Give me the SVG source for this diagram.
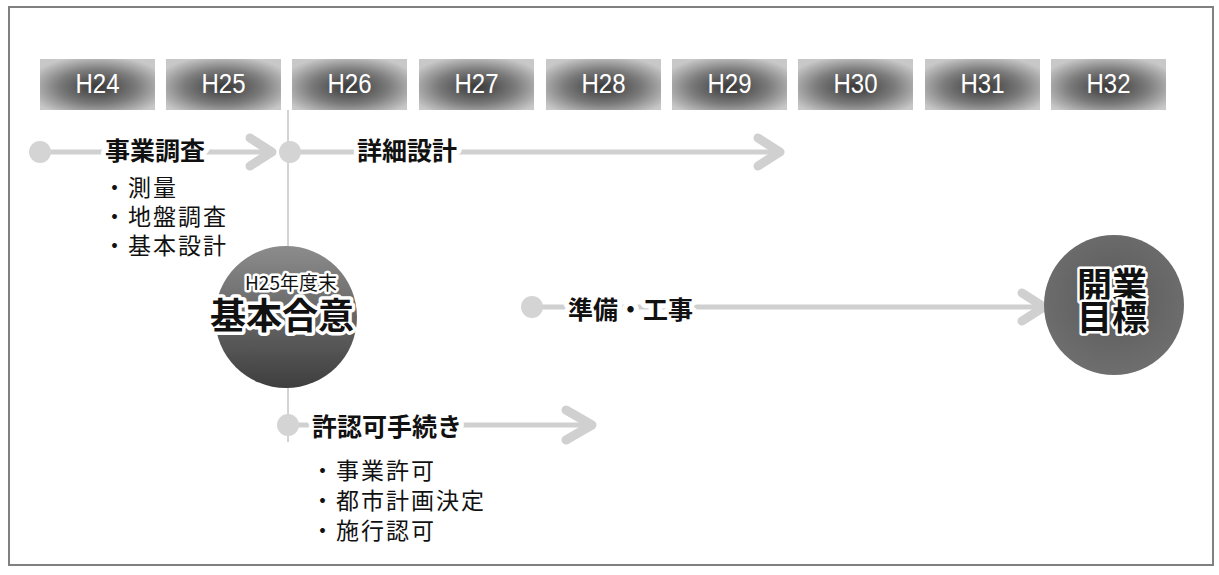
<svg xmlns="http://www.w3.org/2000/svg" width="1219" height="575" viewBox="0 0 1219 575">
<defs>
  <radialGradient id="yearGrad" cx="0.5" cy="0.55" r="0.62">
    <stop offset="0" stop-color="#383838"/>
    <stop offset="0.55" stop-color="#7c7c7c"/>
    <stop offset="1" stop-color="#c8c8c8"/>
  </radialGradient>
  <linearGradient id="ballGrad" x1="0" y1="0" x2="0" y2="1">
    <stop offset="0" stop-color="#8c8c8c"/>
    <stop offset="0.5" stop-color="#666"/>
    <stop offset="1" stop-color="#3e3e3e"/>
  </linearGradient>
  <radialGradient id="ball2Grad" cx="0.5" cy="0.45" r="0.6">
    <stop offset="0" stop-color="#5a5a5a"/>
    <stop offset="1" stop-color="#707070"/>
  </radialGradient>
</defs>
<style>
  .frame { fill: #ffffff; stroke: #808080; stroke-width: 2; }
  .year { fill: url(#yearGrad); }
  .yeart { font-family: "Liberation Sans", Arial, sans-serif; font-size: 27px; fill: #ffffff; text-anchor: middle; }
  .line { stroke: #d0d0d0; stroke-width: 5; fill: none; }
  .head { stroke: #d0d0d0; stroke-width: 9; fill: none; stroke-linecap: round; stroke-linejoin: round; }
  .dot { fill: #d4d4d4; }
  .vline { stroke: #a8a8a8; stroke-width: 1; }
  .label { font-family: "Noto Sans CJK JP", "Noto Sans CJK SC", sans-serif; font-size: 25px; font-weight: bold; fill: #111; stroke: #ffffff; stroke-width: 10; paint-order: stroke; stroke-linejoin: round; }
  .item { font-family: "Noto Sans CJK JP", "Noto Sans CJK SC", sans-serif; font-size: 23px; fill: #111; letter-spacing: 2px; }
  .halo { font-family: "Noto Sans CJK JP", "Noto Sans CJK SC", sans-serif; fill: #111; stroke: #ffffff; stroke-width: 5; paint-order: stroke; stroke-linejoin: round; text-anchor: middle; }
</style>

<rect class="frame" x="9" y="7" width="1204" height="558"/>

<g id="years">
  <g id="year-H24"><rect class="year" x="40" y="59" width="115" height="51"/><text class="yeart" x="97.5" y="93" textLength="44" lengthAdjust="spacingAndGlyphs">H24</text></g>
  <g id="year-H25"><rect class="year" x="166" y="59" width="115" height="51"/><text class="yeart" x="223.5" y="93" textLength="44" lengthAdjust="spacingAndGlyphs">H25</text></g>
  <g id="year-H26"><rect class="year" x="292" y="59" width="115" height="51"/><text class="yeart" x="349.5" y="93" textLength="44" lengthAdjust="spacingAndGlyphs">H26</text></g>
  <g id="year-H27"><rect class="year" x="419" y="59" width="115" height="51"/><text class="yeart" x="476.5" y="93" textLength="44" lengthAdjust="spacingAndGlyphs">H27</text></g>
  <g id="year-H28"><rect class="year" x="546" y="59" width="115" height="51"/><text class="yeart" x="603.5" y="93" textLength="44" lengthAdjust="spacingAndGlyphs">H28</text></g>
  <g id="year-H29"><rect class="year" x="672" y="59" width="115" height="51"/><text class="yeart" x="729.5" y="93" textLength="44" lengthAdjust="spacingAndGlyphs">H29</text></g>
  <g id="year-H30"><rect class="year" x="798" y="59" width="115" height="51"/><text class="yeart" x="855.5" y="93" textLength="44" lengthAdjust="spacingAndGlyphs">H30</text></g>
  <g id="year-H31"><rect class="year" x="925" y="59" width="115" height="51"/><text class="yeart" x="982.5" y="93" textLength="44" lengthAdjust="spacingAndGlyphs">H31</text></g>
  <g id="year-H32"><rect class="year" x="1051" y="59" width="115" height="51"/><text class="yeart" x="1108.5" y="93" textLength="44" lengthAdjust="spacingAndGlyphs">H32</text></g>
</g>

<g id="connectors">
  <line class="vline" x1="288" y1="110" x2="288" y2="442"/>
  <line class="line" x1="40" y1="152" x2="268" y2="152"/>
  <polyline class="head" points="250,138 272,152 250,166"/>
  <line class="line" x1="290" y1="152" x2="776" y2="152"/>
  <polyline class="head" points="758,138 780,152 758,166"/>
  <line class="line" x1="532" y1="307" x2="1040" y2="307"/>
  <polyline class="head" points="1022,293 1044,307 1022,321"/>
  <line class="line" x1="288" y1="425" x2="588" y2="425"/>
  <polyline class="head" points="566,410 592,425 566,440"/>
  <circle class="dot" cx="40" cy="152" r="11"/>
  <circle class="dot" cx="290" cy="152" r="11"/>
  <circle class="dot" cx="532" cy="307" r="11"/>
  <circle class="dot" cx="288" cy="425" r="11"/>
</g>

<g id="node-jigyou-chousa">
  <text class="label" x="105" y="160">事業調査</text>
  <text class="item"><tspan x="103" y="196">・測量</tspan><tspan x="103" y="225">・地盤調査</tspan><tspan x="103" y="254">・基本設計</tspan></text>
</g>

<g id="node-shousai-sekkei">
  <text class="label" x="357" y="160">詳細設計</text>
</g>

<g id="node-kihon-goui">
  <circle cx="286" cy="317" r="71" fill="url(#ballGrad)"/>
  <text class="halo"><tspan x="291" y="290" font-size="19">H25年度末</tspan><tspan x="282" y="329" font-size="36" font-weight="bold" stroke-width="7">基本合意</tspan></text>
</g>

<g id="node-junbi-kouji">
  <text class="label" x="568" y="319">準備・工事</text>
</g>

<g id="node-kaigyou-mokuhyou">
  <circle cx="1114" cy="305" r="70" fill="url(#ball2Grad)"/>
  <text class="halo" font-size="35" font-weight="bold" stroke-width="7"><tspan x="1112" y="298">開業</tspan><tspan x="1112" y="330">目標</tspan></text>
</g>

<g id="node-kyoninka">
  <text class="label" x="312" y="436">許認可手続き</text>
  <text class="item"><tspan x="311" y="479">・事業許可</tspan><tspan x="311" y="509">・都市計画決定</tspan><tspan x="311" y="539">・施行認可</tspan></text>
</g>
</svg>
